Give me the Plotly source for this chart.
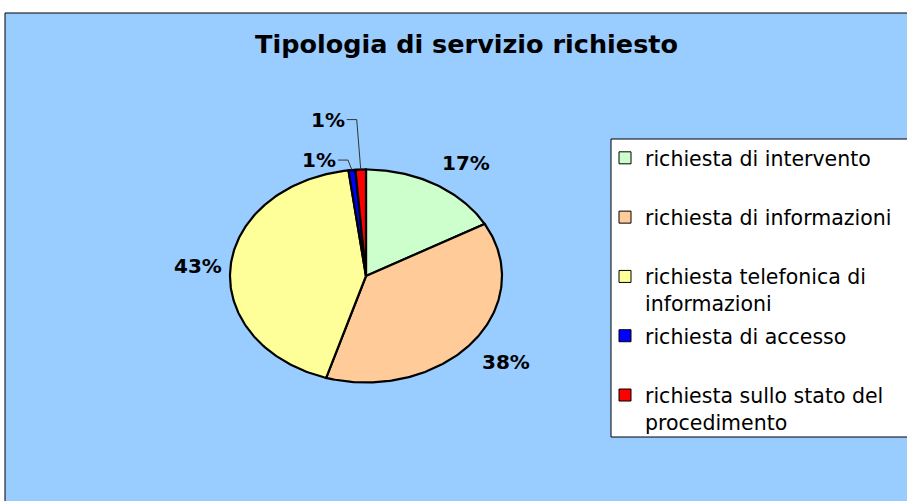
import numpy as np
import plotly.graph_objects as go

# --- data -------------------------------------------------------------
categories = [
    "richiesta di intervento",
    "richiesta di informazioni",
    "richiesta telefonica di informazioni",
    "richiesta di accesso",
    "richiesta sullo stato del procedimento",
]
legend_text = [
    "richiesta di intervento",
    "richiesta di informazioni",
    "richiesta telefonica di<br>informazioni",
    "richiesta di accesso",
    "richiesta sullo stato del<br>procedimento",
]
requests = [41, 92, 105, 2, 3]
colors = ["#CCFFCC", "#FFCC99", "#FFFF99", "#0000FF", "#FF0000"]
title_text = "Tipologia di servizio richiesto"

# --- layout geometry (pixels) -------------------------------------------
W, H = 907, 501
CX, CY = 366, 276          # centre of the pie
RX, RY = 136, 106.5        # horizontal / vertical radius of the (stretched) pie
BG = "#99CCFF"
FONT = "DejaVu Sans"


def px_x(px):
    return (px - CX) / RX


def px_y(py):
    return (CY - py) / RY


fig = go.Figure()
annotations = []

total = float(sum(requests))
cum = 0.0
small_idx = 0
for i, (name, v, c) in enumerate(zip(categories, requests, colors)):
    a0 = cum / total * 2 * np.pi
    a1 = (cum + v) / total * 2 * np.pi
    cum += v
    n = max(4, int(np.degrees(a1 - a0)) + 2)
    t = np.linspace(a0, a1, n)
    xs = np.concatenate([[0.0], np.sin(t), [0.0]])
    ys = np.concatenate([[0.0], np.cos(t), [0.0]])
    fig.add_trace(go.Scatter(
        x=xs, y=ys, mode="lines", fill="toself", fillcolor=c,
        line=dict(color="black", width=2.2), showlegend=False,
        hoverinfo="text", text=f"{name}: {v}", name=name,
    ))

    share = v / total
    pct = f"{round(share * 100):.0f}%"
    mid = (a0 + a1) / 2
    sx, cy = np.sin(mid), np.cos(mid)
    if share >= 0.05:
        r = 1.08
        xa = "left" if sx > 0.05 else ("right" if sx < -0.05 else "center")
        ya = "bottom" if cy > 0.3 else ("top" if cy < -0.3 else "middle")
        annotations.append(dict(
            x=r * sx, y=r * cy, xref="x", yref="y", text=pct, showarrow=False,
            xanchor=xa, yanchor=ya, xshift=4 if xa == "right" else 0,
            font=dict(family=FONT, size=20, color="black", weight="bold"),
        ))
    else:
        # thin slices: label above the pie with an elbow leader line
        ex = CX + RX * sx
        ey = CY - RY * cy
        rise = 10 + 40 * small_idx
        small_idx += 1
        corner_px = ex - 4
        end_px = ex - 14
        ly = ey - rise
        fig.add_trace(go.Scatter(
            x=[px_x(ex), px_x(corner_px), px_x(end_px)],
            y=[px_y(ey), px_y(ly), px_y(ly)],
            mode="lines", line=dict(color="#333333", width=1),
            showlegend=False, hoverinfo="skip",
        ))
        annotations.append(dict(
            x=px_x(end_px), y=px_y(ly), xref="x", yref="y", text=pct,
            showarrow=False, xanchor="right", yanchor="middle",
            font=dict(family=FONT, size=20, color="black", weight="bold"),
        ))

# legend entries (square swatches); single-line entries get a blank second
# line so every entry occupies the same height
for i, (lab, c) in enumerate(zip(legend_text, colors)):
    shown = lab if "<br>" in lab else lab + "<br>\u00a0"
    fig.add_trace(go.Scatter(
        x=[None], y=[None], mode="markers", name=shown, legendgroup=str(i),
        marker=dict(symbol="square", size=12, color=c,
                    line=dict(color="black", width=1)),
    ))

annotations.append(dict(
    x=466 / W, y=(H - 44) / H, xref="paper", yref="paper", text=title_text,
    showarrow=False, xanchor="center", yanchor="middle",
    font=dict(family=FONT, size=25.5, color="black", weight="bold"),
))

shapes = [
    # chart area
    dict(type="rect", xref="paper", yref="paper", x0=5 / W, x1=1.02,
         y0=-0.02, y1=(H - 13) / H, fillcolor=BG,
         line=dict(color="black", width=1), layer="below"),
    # legend box
    dict(type="rect", xref="paper", yref="paper", x0=611 / W, x1=1.02,
         y0=(H - 437) / H, y1=(H - 139) / H, fillcolor="white",
         line=dict(color="black", width=1), layer="below"),
]

fig.update_layout(
    width=W, height=H, autosize=False,
    margin=dict(l=0, r=0, t=0, b=0, pad=0),
    paper_bgcolor="white", plot_bgcolor="rgba(0,0,0,0)",
    xaxis=dict(range=[px_x(0), px_x(W)], domain=[0, 1], visible=False,
               fixedrange=True),
    yaxis=dict(range=[px_y(H), px_y(0)], domain=[0, 1], visible=False,
               fixedrange=True),
    showlegend=True,
    legend=dict(
        x=605 / W, y=(H - 138) / H, xanchor="left", yanchor="top",
        bgcolor="rgba(0,0,0,0)", borderwidth=0, traceorder="grouped",
        tracegroupgap=3, valign="top",
        font=dict(family=FONT, size=20.5, color="black"),
    ),
    annotations=annotations,
    shapes=shapes,
)

fig.write_html("out.html")
